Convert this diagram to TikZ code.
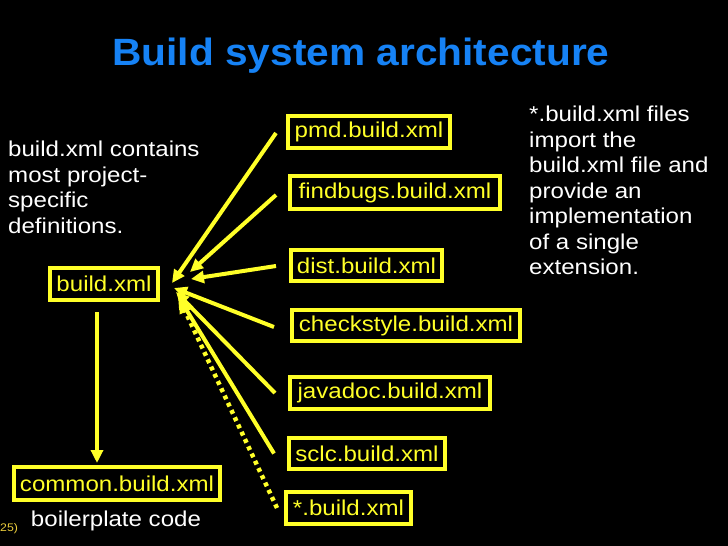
\documentclass[tikz,border=0pt]{standalone}
\usepackage{fontspec}
\setmainfont{Liberation Sans}
\newfontfamily\bodyf[FakeStretch=1.12]{Liberation Sans}
\newfontfamily\titlef[FakeStretch=1.07]{Liberation Sans}
\usetikzlibrary{arrows.meta,calc}
\definecolor{ylw}{RGB}{255,255,40}
\definecolor{ttl}{RGB}{22,130,245}
\definecolor{pgc}{RGB}{235,205,60}
\begin{document}
\begin{tikzpicture}[x=1pt,y=-1pt,
  bodyfont/.style={font=\bodyf\fontsize{21.5}{25.5}\selectfont},
  filebox/.style={bodyfont,draw=ylw,line width=4pt,text=ylw,inner sep=0pt},
  note/.style={bodyfont,text=white,align=left,inner sep=0pt,anchor=north west},
  arr/.style={draw=ylw,line width=4pt,-{Triangle[length=13pt,width=12pt]}},
  dotarr/.style={arr,line width=4.5pt,dash pattern=on 4pt off 4pt}
]
\fill[black] (0,0) rectangle (728,546);
\useasboundingbox (0,0) rectangle (728,546);

\node[font=\titlef\bfseries\fontsize{38}{44}\selectfont,text=ttl] (title) at (361,56) {Build system architecture};

\node[filebox,minimum width=162pt,minimum height=32pt] (pmd) at (369,132) {pmd.build.xml};
\node[filebox,minimum width=210pt,minimum height=33pt] (findbugs) at (395,192.5) {findbugs.build.xml};
\node[filebox,minimum width=151pt,minimum height=31pt] (dist) at (366.5,265.5) {dist.build.xml};
\node[filebox,minimum width=228pt,minimum height=31pt] (checkstyle) at (406,325.5) {checkstyle.build.xml};
\node[filebox,minimum width=200pt,minimum height=32pt] (javadoc) at (390,393) {javadoc.build.xml};
\node[filebox,minimum width=156pt,minimum height=31pt] (sclc) at (367,453.5) {sclc.build.xml};
\node[filebox,minimum width=125pt,minimum height=32pt] (star) at (348.5,508) {*.build.xml};
\node[filebox,minimum width=108pt,minimum height=32pt] (build) at (104,284) {build.xml};
\node[filebox,minimum width=206pt,minimum height=33pt] (common) at (117,483.5) {common.build.xml};

\draw[arr] ($(pmd.west)+(-10,1)$) -- ($(build.east)+(12,-1)$);
\draw[arr] ($(findbugs.west)+(-12,2.5)$) -- ($(build.east)+(30,-12)$);
\draw[arr] ($(dist.west)+(-13,0.5)$) -- ($(build.east)+(31,-5)$);
\draw[arr] ($(checkstyle.west)+(-16,1.5)$) -- ($(build.east)+(14,4)$);
\draw[arr] ($(javadoc.west)+(-13,0)$) -- ($(build.east)+(16,8)$);
\draw[arr] ($(sclc.west)+(-13,0)$) -- ($(build.east)+(18,12)$);
\draw[dotarr] ($(star.west)+(-7,0)$) -- ($(build.east)+(20,16)$);
\draw[arr] ($(build.south)+(-7,10)$) -- ($(common.north)+(-20,-2)$);

\node[note] (lnote) at (8,141) {build.xml contains\\most project-\\specific\\definitions.};
\node[note] (rnote) at (529,106) {*.build.xml files\\import the\\build.xml file and\\provide an\\implementation\\of a single\\extension.};
\node[bodyfont,text=white,inner sep=0pt] (bp) at (116,521.4) {boilerplate code};
\node[font=\bodyf\fontsize{11}{13}\selectfont,text=pgc,inner sep=0pt,anchor=base west] (pg) at (0,531) {25)};
\end{tikzpicture}
\end{document}
